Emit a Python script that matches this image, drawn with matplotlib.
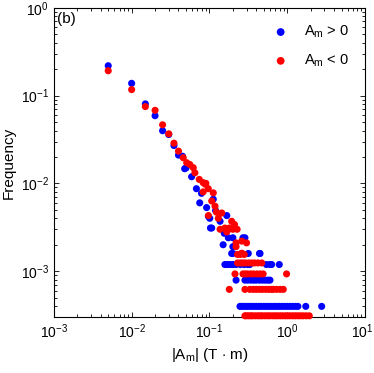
import numpy as np
import matplotlib
matplotlib.use('Agg')
import matplotlib.pyplot as plt
import matplotlib.transforms as mtransforms

plt.rcParams['font.family'] = ['Liberation Sans', 'DejaVu Sans']
plt.rcParams['mathtext.fontset'] = 'custom'
plt.rcParams['mathtext.rm'] = 'Liberation Sans'
plt.rcParams['mathtext.it'] = 'Liberation Sans'

# A_m > 0 : (|A_m|, frequency)
pos_x = [0.005, 0.01, 0.015, 0.02, 0.025, 0.03, 0.035, 0.04, 0.045, 0.048, 0.05,
         0.059, 0.068, 0.075, 0.079, 0.092, 0.097, 0.101, 0.103, 0.107, 0.112,
         0.137, 0.15, 0.167, 0.175, 0.2, 0.27, 0.286, 0.175, 0.2, 0.12, 0.155]
pos_y = [0.219, 0.138, 0.0805, 0.059, 0.0398, 0.036, 0.027, 0.021, 0.0204, 0.0147, 0.0150,
         0.0119, 0.0087, 0.0060, 0.0077, 0.0053, 0.0042, 0.0040, 0.0031, 0.0031, 0.0066,
         0.0037, 0.0020, 0.0043, 0.0024, 0.0019, 0.0024, 0.0024, 0.0030, 0.0024, 0.0049, 0.0027]
# low-count rows of the blue histogram
pos_x4 = [0.193, 0.2, 0.26, 0.316, 0.44, 0.447]
pos_x3 = [0.158, 0.17, 0.184, 0.2, 0.22, 0.25, 0.28, 0.31, 0.33, 0.54, 0.6, 0.63, 0.79]
pos_x2 = [0.22, 0.286, 0.31, 0.34, 0.37, 0.40, 0.44, 0.48, 0.52, 0.56, 0.6]
pos_x1 = [0.247, 0.26, 0.28, 0.30, 0.32, 0.345, 0.37, 0.40, 0.43, 0.46, 0.50, 0.54,
          0.58, 0.63, 0.68, 0.73, 0.79, 0.85, 0.92, 1.0, 1.08, 1.17, 1.27, 1.37, 1.73, 2.77]
pos_levels = [0.00159, 0.00119, 0.00079, 0.000397]

# A_m < 0
neg_x = [0.005, 0.01, 0.015, 0.02, 0.025, 0.03, 0.035, 0.04, 0.046, 0.051, 0.056,
         0.062, 0.065, 0.074, 0.083, 0.09, 0.0966, 0.088, 0.083, 0.112, 0.107, 0.118,
         0.123, 0.144, 0.097, 0.193, 0.137, 0.158, 0.167, 0.2, 0.227, 0.18, 0.22,
         0.26, 0.3, 0.22, 0.26, 0.13, 0.21]
neg_y = [0.192, 0.117, 0.075, 0.068, 0.0465, 0.0367, 0.0287, 0.0233, 0.0196, 0.0172, 0.0164,
         0.0151, 0.0132, 0.0111, 0.0102, 0.0100, 0.0087, 0.0098, 0.0080, 0.0078, 0.0063, 0.0055,
         0.0047, 0.0046, 0.0043, 0.0037, 0.0030, 0.0031, 0.0028, 0.0030, 0.0030, 0.0031, 0.0021,
         0.0022, 0.0021, 0.0019, 0.0016, 0.0040, 0.0034]
neg_x5 = [0.23, 0.25, 0.28]
neg_x4 = [0.23, 0.25, 0.27, 0.29, 0.32, 0.35, 0.38, 0.42, 0.47]
neg_x3 = [0.213, 0.27, 0.29, 0.31, 0.34, 0.37, 0.41, 0.45, 0.49, 0.98]
neg_x2 = [0.18, 0.286, 0.33, 0.366, 0.40, 0.44, 0.48, 0.53, 0.58, 0.63, 0.66, 0.73, 0.81, 0.89]
neg_x1 = [0.286, 0.30, 0.32, 0.34, 0.36, 0.39, 0.42, 0.45, 0.48, 0.52, 0.56, 0.60, 0.65,
          0.70, 0.75, 0.81, 0.87, 0.94, 1.01, 1.09, 1.18, 1.27, 1.37, 1.48, 1.6, 1.75, 1.92]
neg_levels = [0.00155, 0.00124, 0.00093, 0.00062, 0.00031]

bx = list(pos_x)
by = list(pos_y)
for xs, lev in zip([pos_x4, pos_x3, pos_x2, pos_x1], pos_levels):
    bx += xs
    by += [lev] * len(xs)

rx = list(neg_x)
ry = list(neg_y)
for xs, lev in zip([neg_x5, neg_x4, neg_x3, neg_x2, neg_x1], neg_levels):
    rx += xs
    ry += [lev] * len(xs)

fig = plt.figure(figsize=(3.74, 3.73), dpi=100)
ax = fig.add_axes([0.144, 0.150, 0.832, 0.829])

ax.scatter(bx, by, s=26, c='#0000ff', edgecolors='none', clip_on=False,
           label='$A_{m}$ > 0', zorder=3)
ax.scatter(rx, ry, s=26, c='#ff0000', edgecolors='none', clip_on=False,
           label='$A_{m}$ < 0', zorder=4)

ax.set_xscale('log')
ax.set_yscale('log')
ax.set_xlim(1e-3, 1e1)
ax.set_ylim(3e-4, 1e0)
ax.set_xticks([1e-3, 1e-2, 1e-1, 1e0, 1e1])
ax.set_yticks([1e-3, 1e-2, 1e-1, 1e0])

ax.tick_params(which='both', direction='in', top=True, right=True,
               labelsize=10, width=0.6)
ax.tick_params(which='major', length=3.5)
ax.tick_params(which='minor', length=2)
for s in ax.spines.values():
    s.set_linewidth(0.8)

# pull the last x label (10^1) a bit left so it stays inside the figure
last = ax.get_xticklabels()[-1]
last.set_transform(last.get_transform() +
                   mtransforms.ScaledTranslation(-3 / 100, 0, fig.dpi_scale_trans))

ax.set_xlabel('|$A_{m}$| (T $\\cdot$ m)', fontsize=11)
ax.set_ylabel('Frequency', fontsize=11)
ax.text(0.01, 0.985, '(b)', transform=ax.transAxes, ha='left', va='top', fontsize=11)

ax.legend(loc='upper right', frameon=False, fontsize=10.5, handletextpad=0.6,
          labelspacing=0.85, borderaxespad=0.7, markerscale=1.1)

fig.savefig('out.png', dpi=100)
